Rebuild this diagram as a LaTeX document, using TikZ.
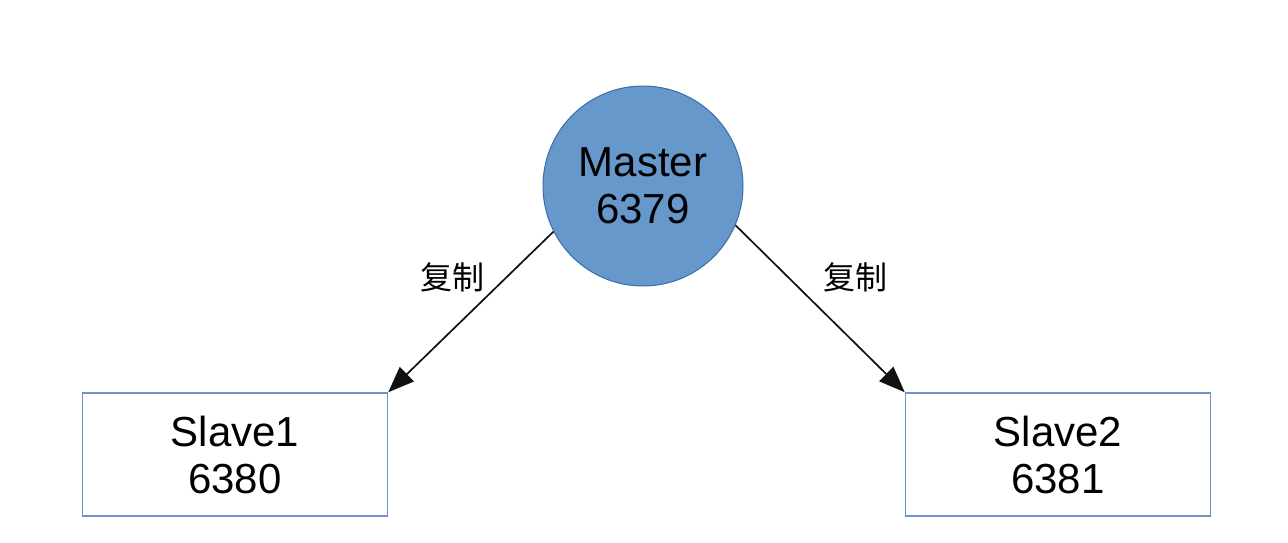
\documentclass[tikz,border=0pt]{standalone}
\usepackage{fontspec}
\setmainfont{Liberation Sans}
\newfontfamily\cjk{Noto Sans CJK SC}
\usetikzlibrary{arrows.meta}
\definecolor{masterfill}{HTML}{6798CC}
\definecolor{masterdraw}{HTML}{3D6DA8}
\definecolor{boxdraw}{HTML}{6F93C6}
\definecolor{linecol}{HTML}{111111}
\begin{document}
\begin{tikzpicture}[x=1pt,y=-1pt,
  master/.style={circle,fill=masterfill,draw=masterdraw,line width=1pt,minimum size=200pt,inner sep=0pt,align=center,font=\fontsize{42}{47}\selectfont},
  slavebox/.style={rectangle,draw=boxdraw,line width=1.5pt,minimum width=305pt,minimum height=123pt,inner sep=0pt,align=center,font=\fontsize{42}{47}\selectfont},
  conn/.style={draw=linecol,line width=1.7pt,-{Triangle[length=26pt,width=20pt]}},
  lbl/.style={font=\cjk\fontsize{32}{35}\selectfont}]
\useasboundingbox (0,0) rectangle (1288,542);
\node[master] (m) at (643,186) {Master\\6379};
\node[slavebox] (s1) at (235,454.5) {Slave1\\6380};
\node[slavebox] (s2) at (1058,454.5) {Slave2\\6381};
\draw[conn] (m.207) -- (s1.north east);
\draw[conn] (m.-23) -- (s2.north west);
\node[lbl] (l1) at (452,277) {复制};
\node[lbl] (l2) at (855,277) {复制};
\end{tikzpicture}
\end{document}
